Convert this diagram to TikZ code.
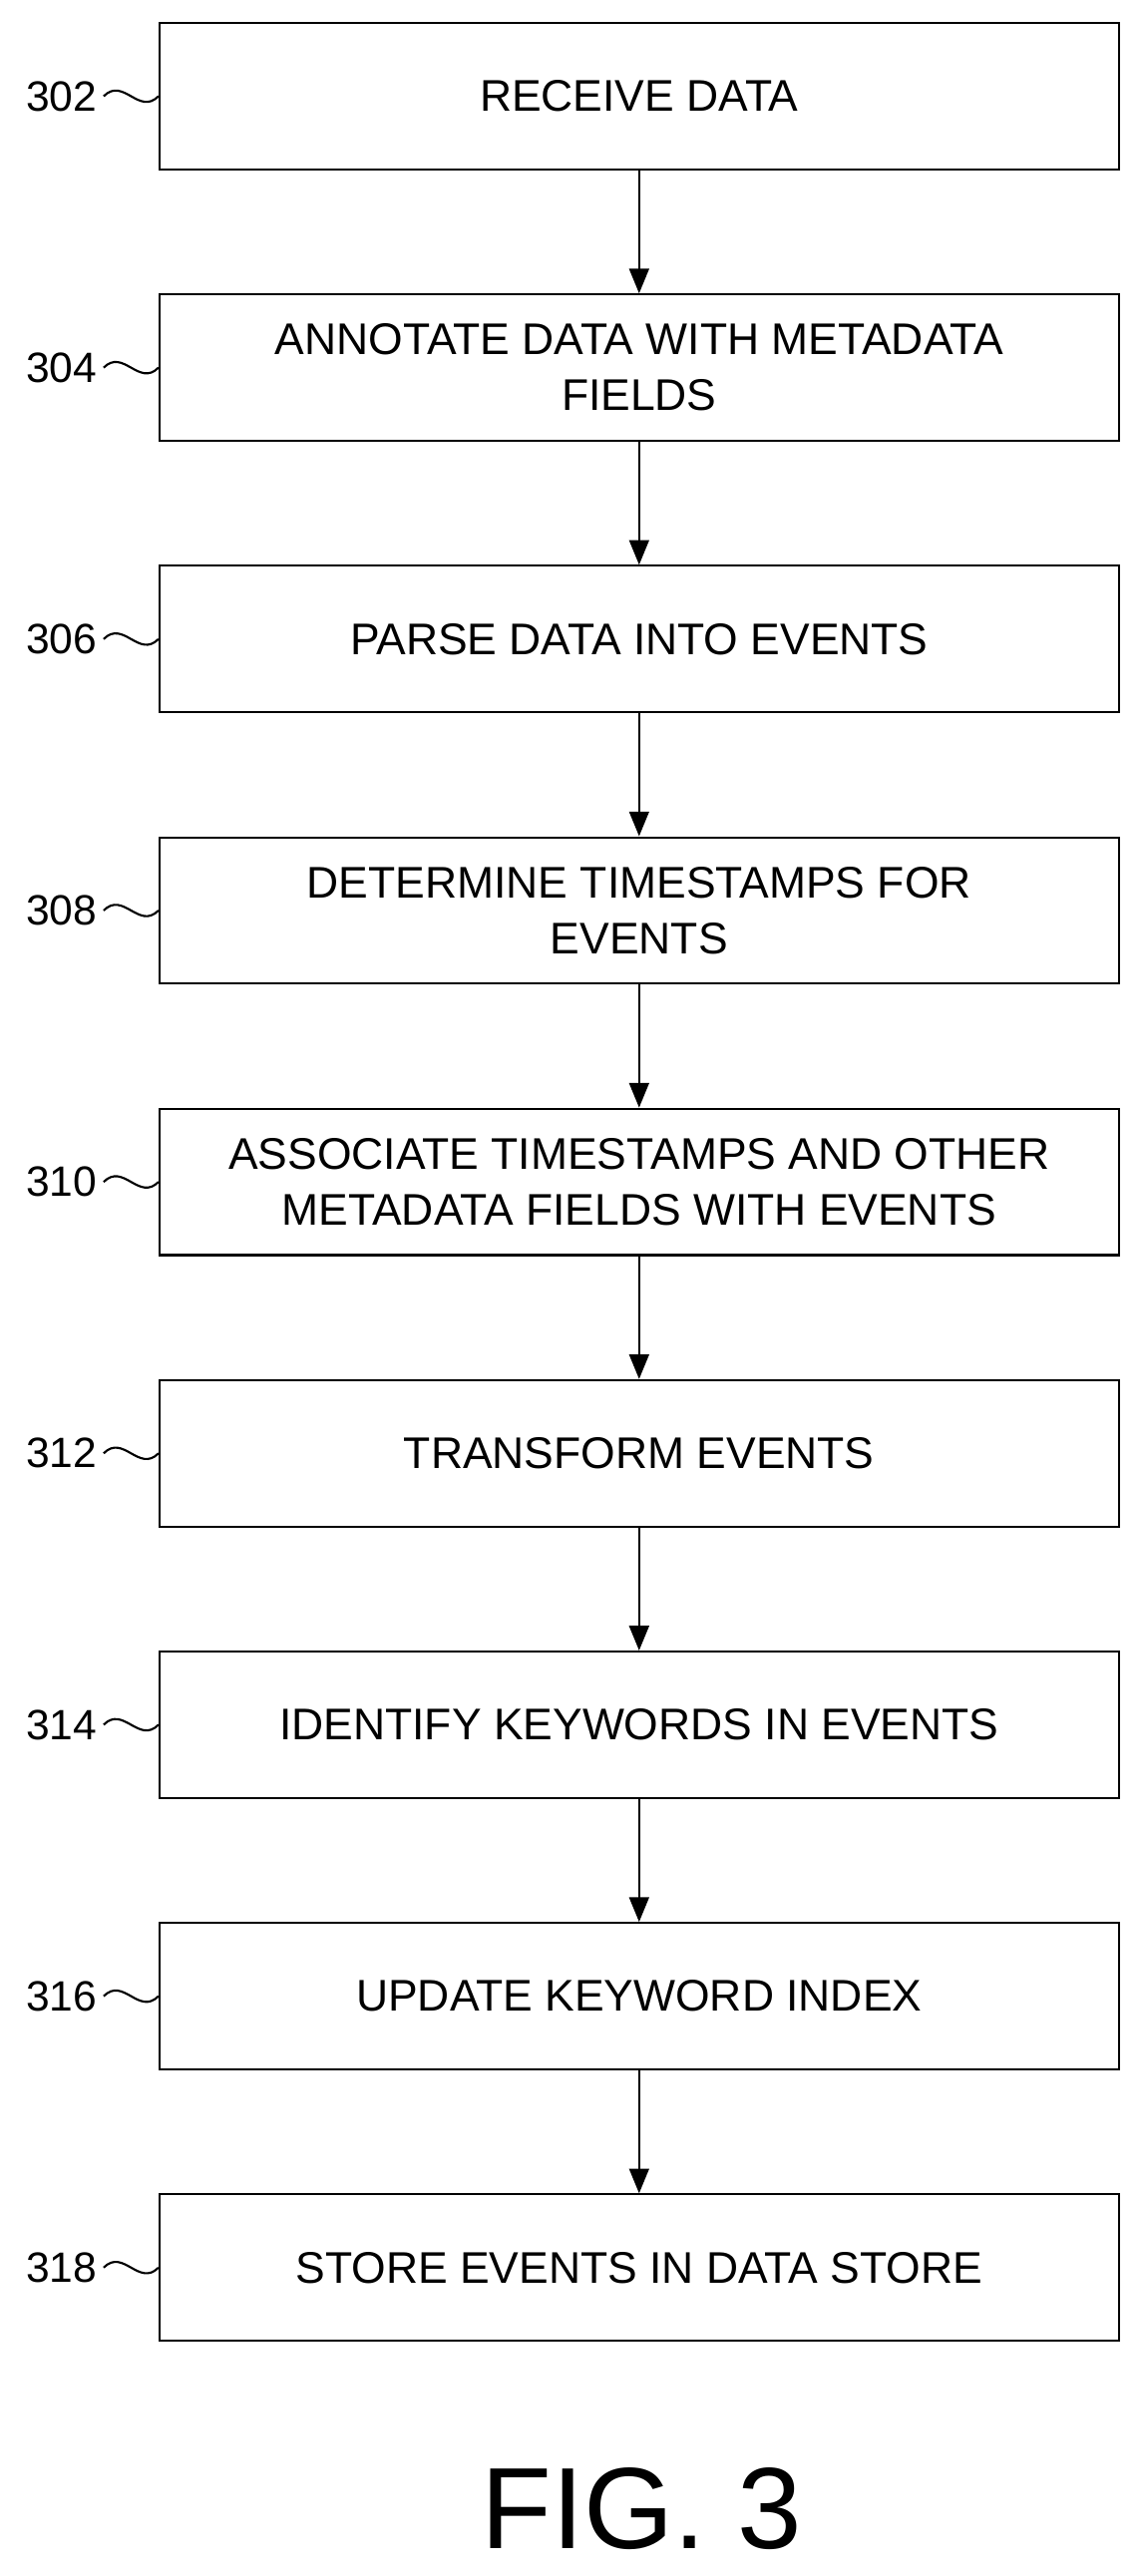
\documentclass[tikz,border=0pt]{standalone}
\usepackage{fontspec}
\setmainfont{Liberation Sans}
\usetikzlibrary{arrows.meta,positioning,calc}

\begin{document}
\begin{tikzpicture}[
    x=0.03cm, y=-0.03cm,
    box/.style={rectangle, draw=black, line width=1.1pt, minimum height=2.67cm, minimum width=17.49cm, align=center, font=\fontsize{23}{29}\selectfont},
    ref/.style={font=\fontsize{22}{26}\selectfont, anchor=east},
    arrow/.style={-{Triangle[length=0.45cm, width=0.36cm]}, line width=1.1pt},
    squig/.style={line width=1.1pt}
]
\useasboundingbox (0,0) rectangle (694,1566);

% Steps
\foreach \i/\num/\txt in {
    0/302/RECEIVE DATA,
    1/304/{ANNOTATE DATA WITH METADATA\\FIELDS},
    2/306/PARSE DATA INTO EVENTS,
    3/308/{DETERMINE TIMESTAMPS FOR\\EVENTS},
    4/310/{ASSOCIATE TIMESTAMPS AND OTHER\\METADATA FIELDS WITH EVENTS},
    5/312/TRANSFORM EVENTS,
    6/314/IDENTIFY KEYWORDS IN EVENTS,
    7/316/UPDATE KEYWORD INDEX,
    8/318/STORE EVENTS IN DATA STORE}{
  \node[box] (s\num) at (388.5, 58.5+165*\i) {\txt};
  \node[ref] (l\num) at (63, 58.5+165*\i) {\num};
  \draw[squig] (l\num.east) .. controls ($(l\num.east)+(12,-12)$) and ($(s\num.west)+(-12,12)$) .. (s\num.west);
}

% Arrows
\foreach \a/\b in {302/304, 304/306, 306/308, 308/310, 310/312, 312/314, 314/316, 316/318}
  \draw[arrow] (s\a) -- (s\b);

% Caption
\node[font=\fontsize{60}{70}\selectfont] (fig) at (390, 1525) {FIG. 3};

\end{tikzpicture}
\end{document}
